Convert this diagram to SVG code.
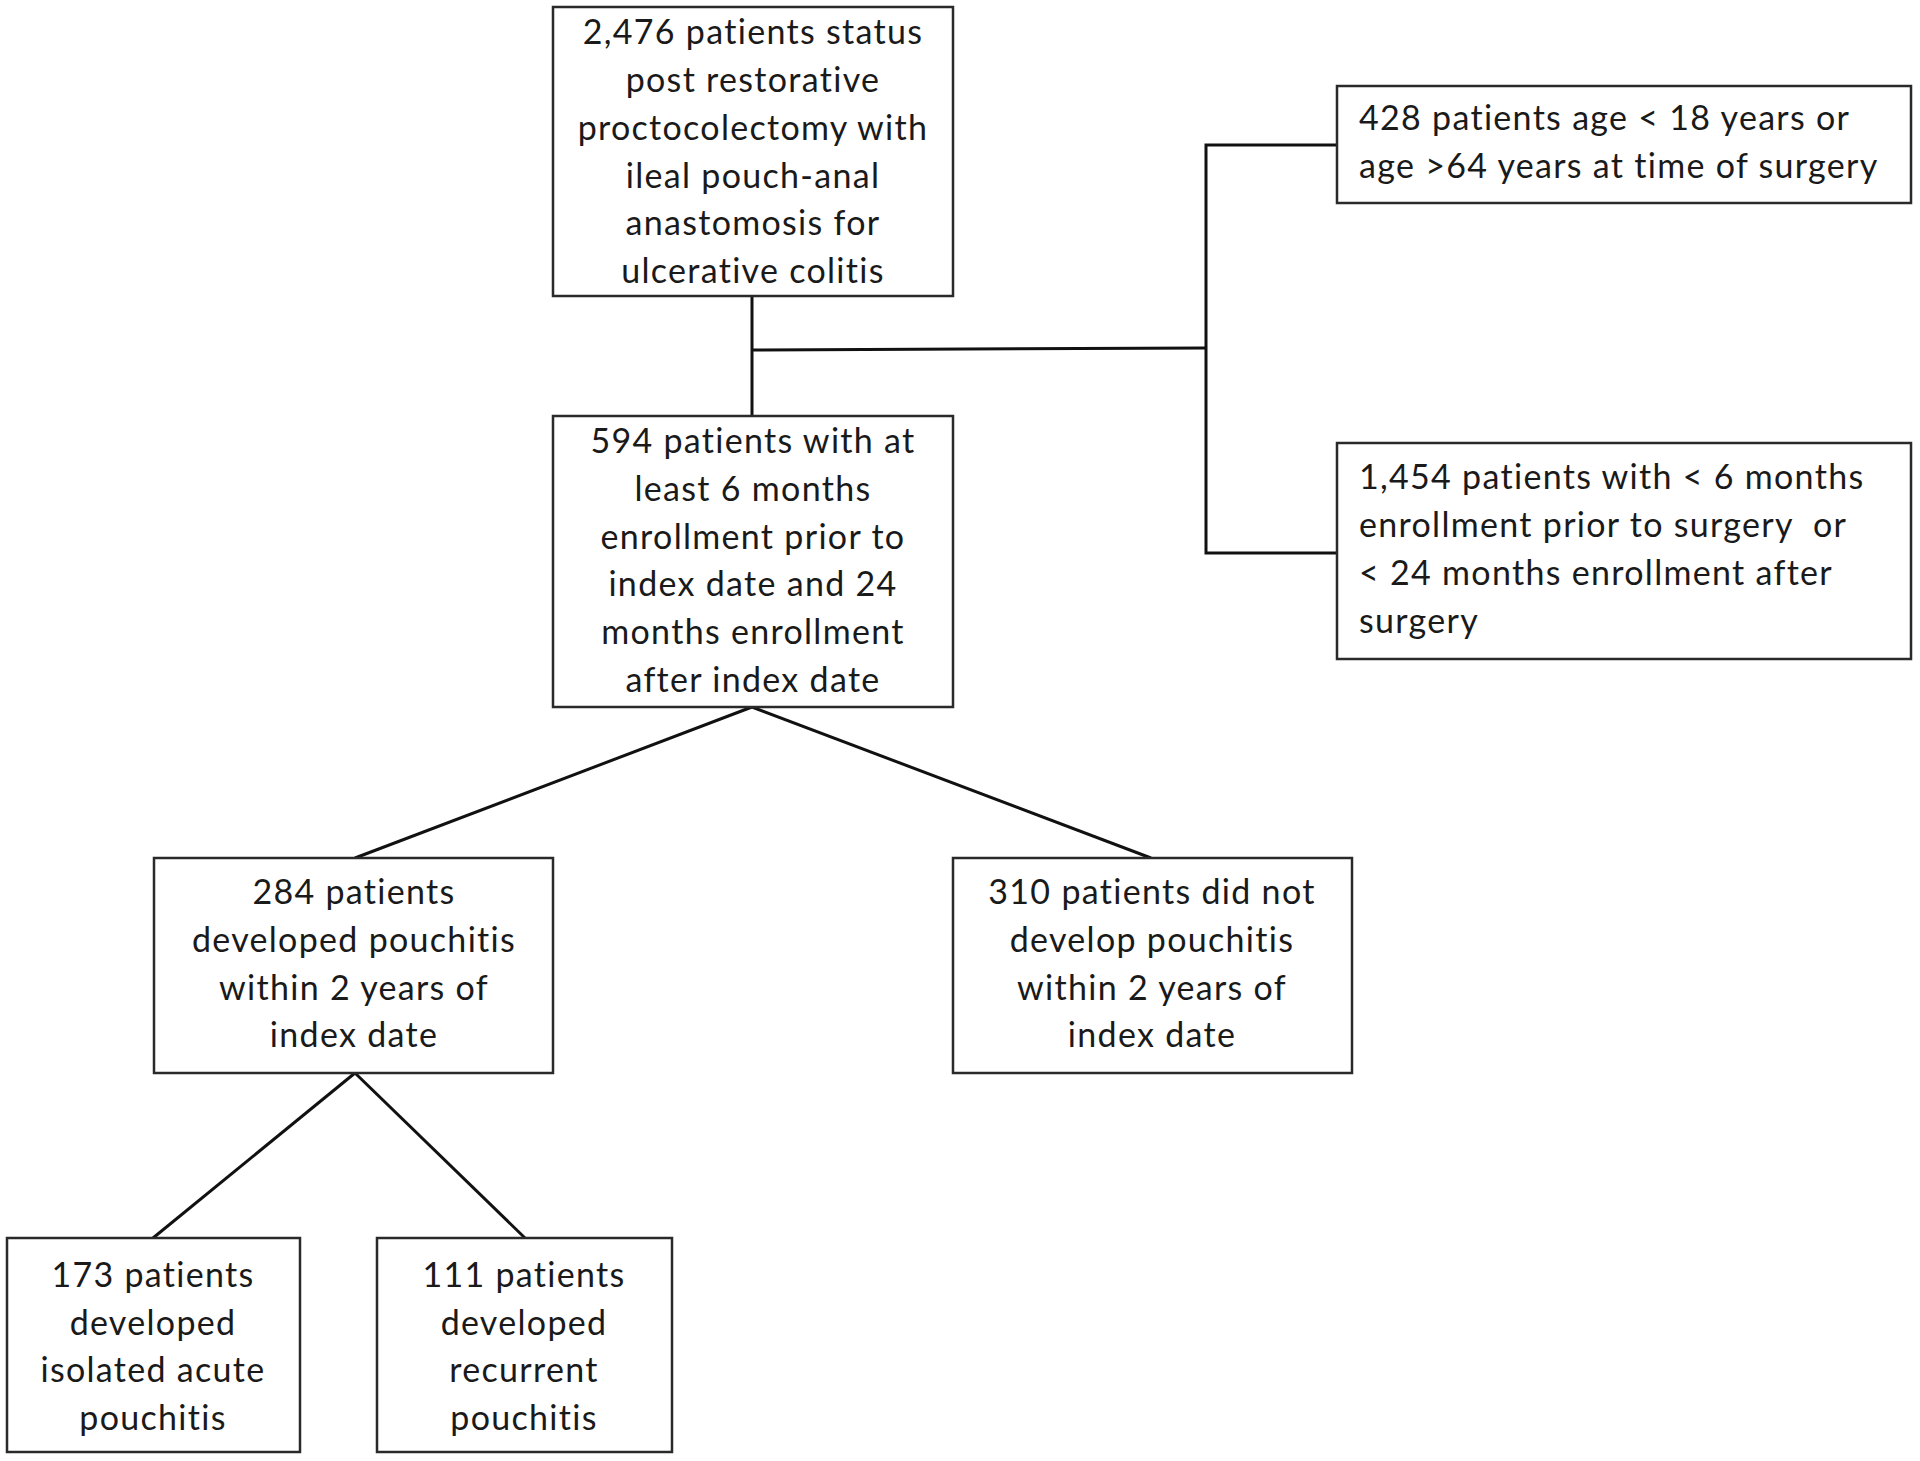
<svg xmlns="http://www.w3.org/2000/svg" width="1920" height="1461" viewBox="0 0 1920 1461">
<style>
.box{fill:#fff;stroke:#2a2a2a;stroke-width:2.5}
.t{font-family:Lato,"Liberation Sans",sans-serif;font-size:34px;letter-spacing:1.3px;fill:#1a1a1a}
.c{text-anchor:middle}
.ln{stroke:#111;stroke-width:3;fill:none}
</style>
<rect width="1920" height="1461" fill="#fff"/>
<g id="connectors">
<line class="ln" x1="752" y1="296" x2="752" y2="416"/>
<line class="ln" x1="752" y1="350" x2="1206" y2="348"/>
<polyline class="ln" points="1337,145 1206,145 1206,553 1337,553"/>
<line class="ln" x1="752" y1="707" x2="355" y2="858"/>
<line class="ln" x1="752" y1="707" x2="1151" y2="858"/>
<line class="ln" x1="355" y1="1073" x2="153" y2="1238"/>
<line class="ln" x1="355" y1="1073" x2="525" y2="1238"/>
</g>
<g id="n1">
<rect class="box" x="553" y="7" width="400" height="289"/>
<text class="t c" x="753"><tspan x="753" y="44">2,476 patients status</tspan><tspan x="753" y="92">post restorative</tspan><tspan x="753" y="140">proctocolectomy with</tspan><tspan x="753" y="188">ileal pouch-anal</tspan><tspan x="753" y="235">anastomosis for</tspan><tspan x="753" y="283">ulcerative colitis</tspan></text>
</g>
<g id="n2">
<rect class="box" x="1337" y="86" width="574" height="117"/>
<text class="t"><tspan x="1359" y="130">428 patients age &lt; 18 years or</tspan><tspan x="1359" y="178">age &gt;64 years at time of surgery</tspan></text>
</g>
<g id="n3">
<rect class="box" x="1337" y="443" width="574" height="216"/>
<text class="t"><tspan x="1359" y="489">1,454 patients with &lt; 6 months</tspan><tspan x="1359" y="537" xml:space="preserve">enrollment prior to surgery  or</tspan><tspan x="1359" y="585">&lt; 24 months enrollment after</tspan><tspan x="1359" y="633">surgery</tspan></text>
</g>
<g id="n4">
<rect class="box" x="553" y="416" width="400" height="291"/>
<text class="t c"><tspan x="753" y="453">594 patients with at</tspan><tspan x="753" y="501">least 6 months</tspan><tspan x="753" y="549">enrollment prior to</tspan><tspan x="753" y="596">index date and 24</tspan><tspan x="753" y="644">months enrollment</tspan><tspan x="753" y="692">after index date</tspan></text>
</g>
<g id="n5">
<rect class="box" x="154" y="858" width="399" height="215"/>
<text class="t c"><tspan x="354" y="904">284 patients</tspan><tspan x="354" y="952">developed pouchitis</tspan><tspan x="354" y="1000">within 2 years of</tspan><tspan x="354" y="1047">index date</tspan></text>
</g>
<g id="n6">
<rect class="box" x="953" y="858" width="399" height="215"/>
<text class="t c"><tspan x="1152" y="904">310 patients did not</tspan><tspan x="1152" y="952">develop pouchitis</tspan><tspan x="1152" y="1000">within 2 years of</tspan><tspan x="1152" y="1047">index date</tspan></text>
</g>
<g id="n7">
<rect class="box" x="7" y="1238" width="293" height="214"/>
<text class="t c"><tspan x="153" y="1287">173 patients</tspan><tspan x="153" y="1335">developed</tspan><tspan x="153" y="1382">isolated acute</tspan><tspan x="153" y="1430">pouchitis</tspan></text>
</g>
<g id="n8">
<rect class="box" x="377" y="1238" width="295" height="214"/>
<text class="t c"><tspan x="524" y="1287">111 patients</tspan><tspan x="524" y="1335">developed</tspan><tspan x="524" y="1382">recurrent</tspan><tspan x="524" y="1430">pouchitis</tspan></text>
</g>
</svg>
